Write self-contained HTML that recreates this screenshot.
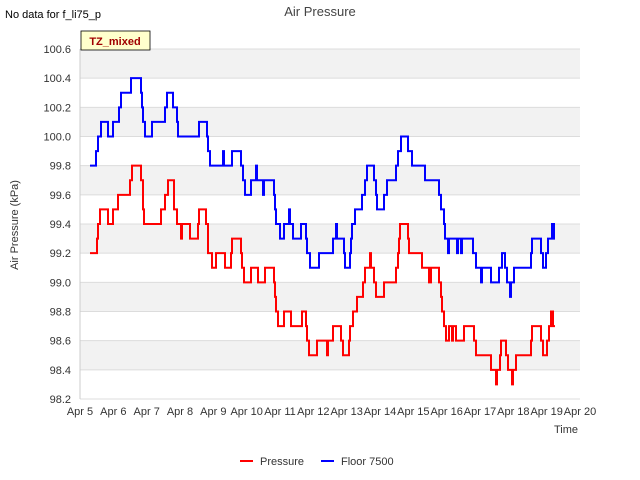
<!DOCTYPE html>
<html><head><meta charset="utf-8"><style>
body{margin:0;background:#fff}
svg{display:block;font-family:"Liberation Sans",sans-serif}
</style></head><body>
<svg width="640" height="480" id="chart">
<text x="5" y="18" font-size="11" fill="#000">No data for f_li75_p</text>
<text x="320" y="16" font-size="13" fill="#444" text-anchor="middle">Air Pressure</text>
<g id="plot"></g>
<rect x="81" y="31" width="69" height="19" fill="#ffffcc" stroke="#000" stroke-width="0.8"/>
<text x="115" y="45" font-size="11" font-weight="bold" fill="#a00000" text-anchor="middle">TZ_mixed</text>
<text transform="translate(18,225) rotate(-90)" font-size="11" fill="#333" text-anchor="middle">Air Pressure (kPa)</text>
<text x="566" y="433" font-size="11" fill="#333" text-anchor="middle">Time</text>
<g>
<line x1="240" y1="461" x2="253" y2="461" stroke="red" stroke-width="2"/>
<text x="260" y="465" font-size="11" fill="#333">Pressure</text>
<line x1="321" y1="461" x2="334" y2="461" stroke="blue" stroke-width="2"/>
<text x="341" y="465" font-size="11" fill="#333">Floor 7500</text>
</g>
</svg>
<script>
const xTickLabels=["Apr 5","Apr 6","Apr 7","Apr 8","Apr 9","Apr 10","Apr 11","Apr 12","Apr 13","Apr 14","Apr 15","Apr 16","Apr 17","Apr 18","Apr 19","Apr 20"];
const yTickValues=[98.2,98.4,98.6,98.8,99.0,99.2,99.4,99.6,99.8,100.0,100.2,100.4,100.6];
const floorT=[0.30,0.48,0.54,0.63,0.84,0.99,1.17,1.23,1.53,1.83,1.86,1.89,1.95,2.16,2.55,2.61,2.79,2.91,2.94,3.57,3.81,3.84,3.90,4.29,4.32,4.56,4.83,4.89,4.95,5.13,5.28,5.31,5.49,5.52,5.82,5.85,5.88,5.91,6.00,6.12,6.27,6.30,6.39,6.63,6.78,6.81,6.90,7.17,7.59,7.68,7.71,7.92,7.95,8.10,8.13,8.16,8.25,8.46,8.55,8.61,8.82,8.88,8.91,9.12,9.21,9.48,9.54,9.63,9.84,9.96,10.35,10.77,10.83,10.92,10.95,11.04,11.07,11.31,11.34,11.43,11.46,11.79,11.88,12.03,12.06,12.33,12.57,12.66,12.75,12.81,12.90,12.93,13.02,13.53,13.56,13.83,13.89,13.98,14.04,14.16,14.19,14.22,14.25];
const floorV=[99.8,99.9,100.0,100.1,100.0,100.1,100.2,100.3,100.4,100.3,100.2,100.1,100.0,100.1,100.2,100.3,100.2,100.1,100.0,100.1,100.0,99.9,99.8,99.9,99.8,99.9,99.8,99.7,99.6,99.7,99.8,99.7,99.6,99.7,99.6,99.5,99.4,99.4,99.3,99.4,99.5,99.4,99.3,99.4,99.3,99.2,99.1,99.2,99.3,99.4,99.3,99.2,99.1,99.2,99.3,99.4,99.5,99.6,99.7,99.8,99.7,99.6,99.5,99.6,99.7,99.8,99.9,100.0,99.9,99.8,99.7,99.6,99.5,99.4,99.3,99.2,99.3,99.2,99.3,99.2,99.3,99.2,99.1,99.0,99.1,99.0,99.1,99.2,99.1,99.0,98.9,99.0,99.1,99.2,99.3,99.2,99.1,99.2,99.3,99.4,99.3,99.4,99.4];
const pressT=[0.30,0.51,0.54,0.60,0.84,0.99,1.14,1.50,1.56,1.83,1.89,1.92,2.43,2.55,2.64,2.82,2.91,3.03,3.06,3.30,3.54,3.57,3.78,3.84,3.96,4.08,4.35,4.53,4.56,4.83,4.86,4.92,5.13,5.34,5.55,5.82,5.85,5.88,5.94,6.12,6.33,6.66,6.78,6.81,6.87,7.11,7.41,7.44,7.59,7.83,7.89,8.07,8.10,8.19,8.31,8.49,8.55,8.70,8.73,8.82,8.88,9.12,9.48,9.54,9.57,9.60,9.84,9.87,10.26,10.47,10.53,10.77,10.83,10.86,10.92,10.98,11.07,11.16,11.19,11.28,11.52,11.82,11.88,12.33,12.48,12.51,12.60,12.63,12.78,12.84,12.96,12.99,13.08,13.53,13.56,13.83,13.89,14.01,14.07,14.13,14.19,14.25];
const pressV=[99.2,99.3,99.4,99.5,99.4,99.5,99.6,99.7,99.8,99.7,99.5,99.4,99.5,99.6,99.7,99.5,99.4,99.3,99.4,99.3,99.4,99.5,99.4,99.2,99.1,99.2,99.1,99.2,99.3,99.2,99.1,99.0,99.1,99.0,99.1,99.0,98.9,98.8,98.7,98.8,98.7,98.8,98.7,98.6,98.5,98.6,98.5,98.6,98.7,98.6,98.5,98.6,98.7,98.8,98.9,99.0,99.1,99.2,99.1,99.0,98.9,99.0,99.1,99.2,99.3,99.4,99.3,99.2,99.1,99.0,99.1,99.0,98.9,98.8,98.7,98.6,98.7,98.6,98.7,98.6,98.7,98.6,98.5,98.4,98.3,98.4,98.5,98.6,98.5,98.4,98.3,98.4,98.5,98.6,98.7,98.6,98.5,98.6,98.7,98.8,98.7,98.7];

const NS="http://www.w3.org/2000/svg";
const X0=80,X1=580,Y0=399,Y1=49,VMIN=98.2,VMAX=100.6;
function xs(t){return X0+t*(X1-X0)/15;}
function ys(v){return Y0-(v-VMIN)*(Y0-Y1)/(VMAX-VMIN);}
const plot=document.getElementById('plot');
function mk(tag,attrs){const e=document.createElementNS(NS,tag);for(const k in attrs)e.setAttribute(k,attrs[k]);plot.appendChild(e);return e;}
// bands
for(let i=0;i<yTickValues.length-1;i++){
  if(i%2===1){
    const r=mk('rect',{x:X0,y:ys(yTickValues[i+1]),width:X1-X0,height:ys(yTickValues[i])-ys(yTickValues[i+1]),fill:'#f2f2f2'});
    
    
  }
}
yTickValues.forEach(v=>{
  const l=mk('line',{x1:X0,x2:X1,y1:ys(v),y2:ys(v),stroke:'#dcdcdc','stroke-width':1});
  
  
  const t=mk('text',{x:X0-9,y:ys(v)+4,'font-size':11,fill:'#333','text-anchor':'end'});
  t.textContent=v.toFixed(1);
  
  
});
xTickLabels.forEach((s,i)=>{
  const t=mk('text',{x:xs(i),y:415,'font-size':11,fill:'#333','text-anchor':'middle'});
  t.textContent=s;
  
  
});
const ax=mk('line',{x1:X0,x2:X0,y1:Y1,y2:Y0,stroke:'#ccc'});


function stepPath(T,V){
  let d='M'+xs(T[0])+','+ys(V[0]);
  for(let i=1;i<T.length;i++){d+=' H'+xs(T[i])+' V'+ys(V[i]);}
  return d;
}
const pp=mk('path',{d:stepPath(pressT,pressV),fill:'none',stroke:'red','stroke-width':2});


const fp=mk('path',{d:stepPath(floorT,floorV),fill:'none',stroke:'blue','stroke-width':2});


</script>
</body></html>
